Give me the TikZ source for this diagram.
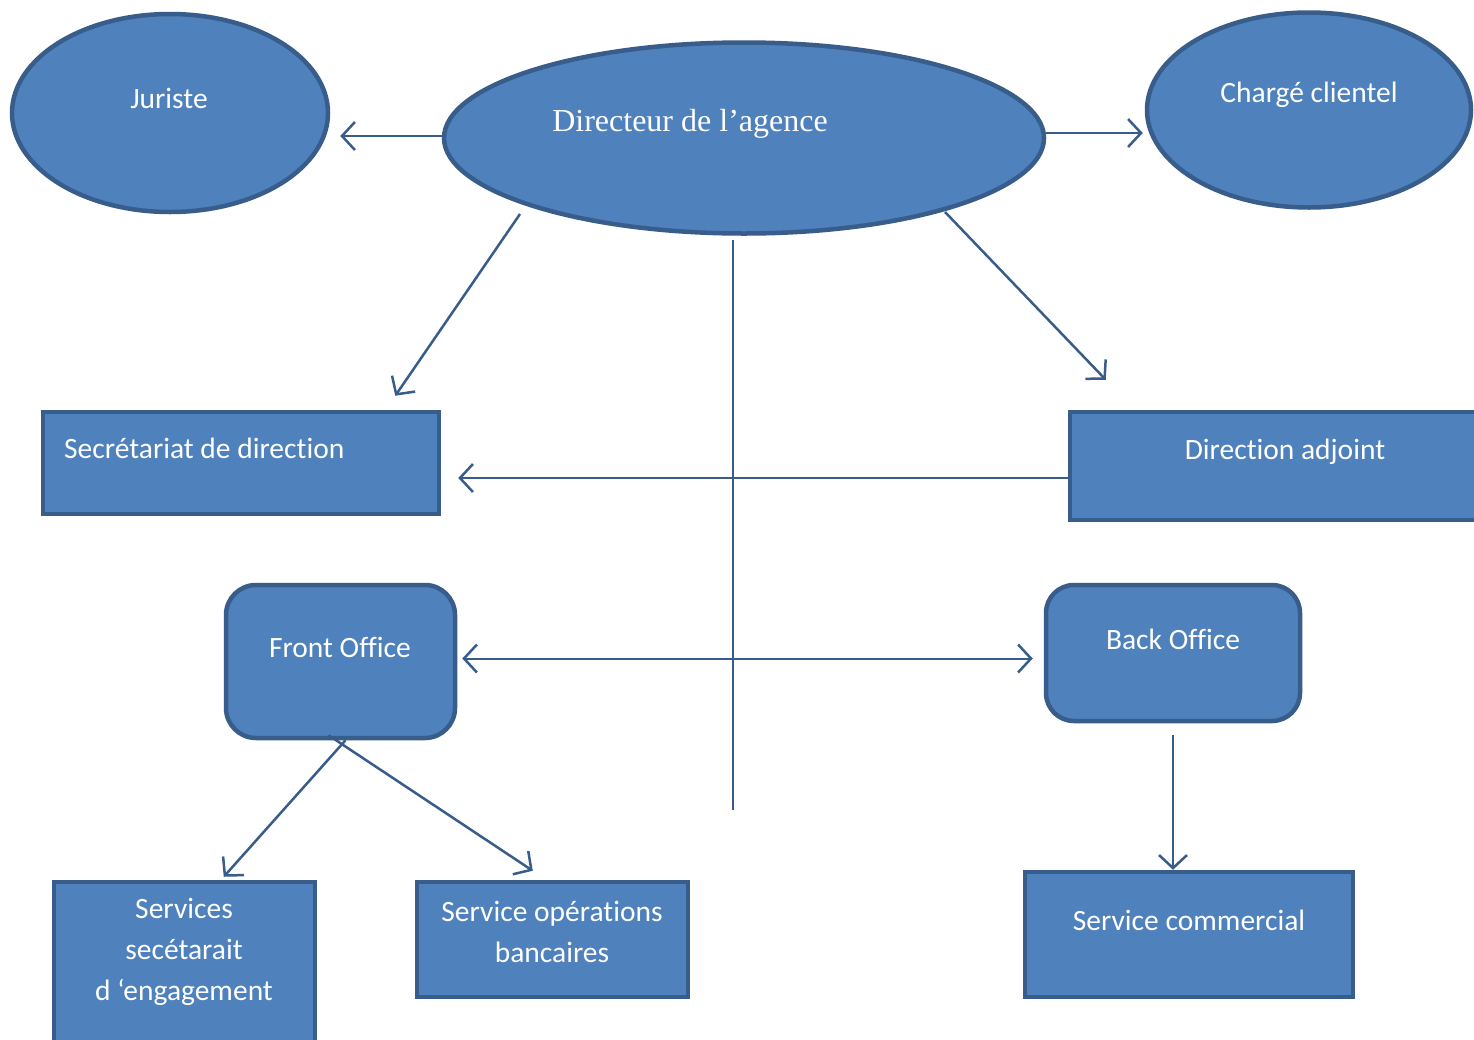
\documentclass[tikz,border=0pt]{standalone}
\usepackage{fontspec}
\newfontfamily\calfont[Ligatures=NoCommon]{Carlito}
\newfontfamily\timesfont{Liberation Serif}
\usetikzlibrary{arrows.meta,calc,shapes.geometric}
\definecolor{boxfill}{HTML}{4F81BD}
\definecolor{boxline}{HTML}{385D8A}
\begin{document}
\begin{tikzpicture}[x=1pt,y=-1pt,
  shapebox/.style={draw=boxline,fill=boxfill,line width=4.5pt},
  ell/.style={shapebox,ellipse,inner sep=0pt},
  rectbox/.style={shapebox,rectangle,inner sep=0pt},
  lbl/.style={text=white,font=\calfont\fontsize{29.5}{41}\selectfont,align=center,inner sep=0pt},
  conn/.style={draw=boxline,line width=2.5pt},
  barb/.tip={Straight Barb[length=13pt,width=28pt,line width=2.5pt]},
  arr/.style={conn,-barb},
  arrtwo/.style={conn,barb-barb}]
\useasboundingbox (0,0) rectangle (1474,1039);
\fill[white] (0,0) rectangle (1474,1039);

% ellipses
\node[ell,minimum width=316pt,minimum height=198pt] (jur) at (170,113) {};
\node[lbl] (jurt) at (169,98) {Juriste};
\node[ell,minimum width=600pt,minimum height=191pt] (dir) at (744,138) {};
\node[lbl,font=\timesfont\fontsize{32}{38}\selectfont] (dirt) at (690,124) {Directeur de l’agence};
\node[ell,minimum width=324pt,minimum height=195pt] (cha) at (1309,110) {};
\node[lbl] (chat) at (1309,95) {Chargé clientel};

% rectangles
\node[rectbox,minimum width=396pt,minimum height=102pt] (sec) at (241,463) {};
\node[lbl,anchor=west] (sect) at (64,448) {Secrétariat de direction};
\node[rectbox,minimum width=420pt,minimum height=108pt] (adj) at (1280,466) {};
\node[lbl] (adjt) at (1285,452) {Direction adjoint};
\node[rectbox,rounded corners=30pt,minimum width=229pt,minimum height=153pt] (fo) at (340.5,661.5) {};
\node[lbl] (fot) at (340,647) {Front Office};
\node[rectbox,rounded corners=28pt,minimum width=254pt,minimum height=136pt] (bo) at (1173,653) {};
\node[lbl] (bot) at (1173,639) {Back Office};
\node[rectbox,minimum width=261pt,minimum height=170pt] (ss) at (184.5,967) {};
\node[lbl] (sst) at (184,952) {Services\\secétarait\\d ‘engagement};
\node[rectbox,minimum width=271pt,minimum height=115pt] (sob) at (552.5,939.5) {};
\node[lbl] (sobt) at (552,932) {Service opérations\\bancaires};
\node[rectbox,minimum width=328pt,minimum height=125pt] (sc) at (1189,934.5) {};
\node[lbl] (sct) at (1189,920) {Service commercial};

% connectors
\draw[arr] ($(dir.west)+(0,-2)$) -- ($(dir.west -| jur.east)+(10,-2)$);
\draw[arr] ($(dir.east)+(0,-5)$) -- ($(dir.east -| cha.west)+(-2,-5)$);
\draw[arr] ($(dir.center)+(-224,76)$) -- ($(sec.north east)+(-46,-14)$);
\draw[arr] ($(dir.center)+(201,74)$) -- ($(adj.north west)+(38,-30)$);
\coordinate (vend) at (733,810);
\draw[conn,line width=2pt] ($(dir.south)+(-11,4)$) -- (vend);
\coordinate (h1) at ($(adj.west)+(0,12)$);
\draw[arr,line width=2pt] (h1) -- ($(h1 -| sec.east)+(17,0)$);
\draw[arrtwo,line width=2pt] ($(fo.east)+(5,-3)$) -- ($(fo.east -| bo.west)+(-11,-3)$);
\draw[arr] ($(fo.south)+(5,0)$) -- ($(ss.north west)+(172,-3)$);
\draw[arr] ($(fo.south)+(-12,-5)$) -- ($(sob.north west)+(118,-9)$);
\draw[arr,line width=2pt] ($(bo.south)+(0,12)$) -- ($(sc.north)+(-16,0)$);
\end{tikzpicture}
\end{document}
